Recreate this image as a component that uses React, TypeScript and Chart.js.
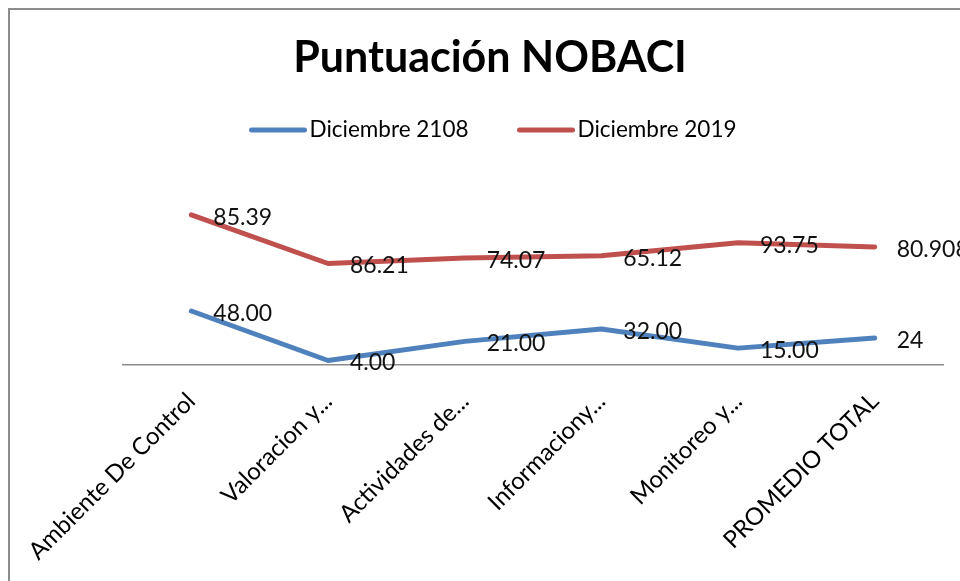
import { useEffect, useRef } from "react";
import { Chart, registerables } from "chart.js";

Chart.register(...registerables);

const categories = [
  "Ambiente De Control",
  "Valoracion y...",
  "Actividades de...",
  "Informaciony...",
  "Monitoreo y...",
  "PROMEDIO TOTAL",
];
const seriesNames = ["Diciembre 2108", "Diciembre 2019"];
const valuesDic2018 = [48, 4, 21, 32, 15, 24];
const valuesDic2019 = [85.39, 86.21, 74.07, 65.12, 93.75, 80.908];
const seriesColors = ["#4F81BD", "#C0504D"];
const yMax = 160;

const FONT = "Lato, 'Open Sans', sans-serif";

function formatValue(v: number, i: number, n: number): string {
  return i === n - 1 ? String(v) : v.toFixed(2);
}

const framePlugin = {
  id: "frame",
  beforeDraw(chart: any) {
    const ctx = chart.ctx;
    ctx.save();
    ctx.fillStyle = "#ffffff";
    ctx.fillRect(0, 0, chart.width, chart.height);
    ctx.fillStyle = "#8c8c8c";
    ctx.fillRect(8, 8, 2, chart.height - 8);
    ctx.fillRect(8, 8, chart.width - 8, 2);
    ctx.restore();
  },
};

const legendPlugin = {
  id: "excelLegend",
  afterDraw(chart: any) {
    const ctx = chart.ctx;
    const lineLen = 57;
    const gap = 3;
    const itemGap = 49;
    const centerX = 493;
    const y = 130;
    ctx.save();
    ctx.font = `22.5px ${FONT}`;
    const ds = chart.data.datasets;
    const widths = ds.map((d: any) => lineLen + gap + ctx.measureText(d.label).width);
    const total = widths.reduce((a: number, b: number) => a + b, 0) + itemGap * (ds.length - 1);
    let x = centerX - total / 2;
    ds.forEach((d: any, i: number) => {
      ctx.strokeStyle = d.borderColor;
      ctx.lineWidth = 5;
      ctx.lineCap = "round";
      ctx.beginPath();
      ctx.moveTo(x + 2, y);
      ctx.lineTo(x + lineLen - 2, y);
      ctx.stroke();
      ctx.fillStyle = "#000000";
      ctx.textAlign = "left";
      ctx.textBaseline = "middle";
      ctx.fillText(d.label, x + lineLen + gap, y);
      x += widths[i] + itemGap;
    });
    ctx.restore();
  },
};

const valueLabelPlugin = {
  id: "valueLabels",
  afterDatasetsDraw(chart: any) {
    const ctx = chart.ctx;
    ctx.save();
    ctx.font = `23px ${FONT}`;
    ctx.fillStyle = "#111111";
    ctx.textAlign = "left";
    ctx.textBaseline = "middle";
    chart.data.datasets.forEach((d: any, di: number) => {
      const meta = chart.getDatasetMeta(di);
      meta.data.forEach((pt: any, i: number) => {
        const v = d.data[i];
        ctx.fillText(formatValue(v, i, d.data.length), pt.x + 22, pt.y + 2.5);
      });
    });
    ctx.restore();
  },
};

export default function App() {
  const ref = useRef<HTMLCanvasElement | null>(null);

  useEffect(() => {
    if (!ref.current) return;
    const chart = new Chart(ref.current, {
      type: "line",
      data: {
        labels: categories,
        datasets: [
          {
            label: seriesNames[0],
            data: valuesDic2018,
            borderColor: seriesColors[0],
            backgroundColor: seriesColors[0],
            borderWidth: 5,
            pointRadius: 0,
            tension: 0,
            fill: false,
            borderCapStyle: "round",
            borderJoinStyle: "round",
          },
          {
            label: seriesNames[1],
            data: valuesDic2019,
            borderColor: seriesColors[1],
            backgroundColor: seriesColors[1],
            borderWidth: 5,
            pointRadius: 0,
            tension: 0,
            fill: false,
            borderCapStyle: "round",
            borderJoinStyle: "round",
          },
        ],
      },
      options: {
        responsive: false,
        animation: false,
        layout: { padding: { left: 37, right: 17, top: 0, bottom: 0 } },
        plugins: {
          legend: { display: false },
          tooltip: { enabled: false },
          title: {
            display: true,
            text: "Puntuación NOBACI",
            color: "#000000",
            font: { family: FONT, size: 43, weight: "bold", lineHeight: 1.2 },
            padding: { top: 32, bottom: 101.4 },
          },
        },
        scales: {
          x: {
            type: "category",
            offset: true,
            grid: { display: false, drawTicks: false },
            border: { display: true, color: "#8c8c8c", width: 1.5 },
            ticks: {
              color: "#000000",
              font: { family: FONT, size: 24 },
              minRotation: 45,
              maxRotation: 45,
              autoSkip: false,
              padding: 22,
            },
            afterFit(scale: any) {
              scale.height = 581 - 365;
            },
          },
          y: {
            stacked: true,
            min: 0,
            max: yMax,
            ticks: { display: false },
            grid: { display: false },
            border: { display: false },
            afterFit(scale: any) {
              scale.width = 86;
            },
          },
        },
      },
      plugins: [framePlugin, legendPlugin, valueLabelPlugin],
    });
    return () => chart.destroy();
  }, []);

  return (
    <div
      style={{
        position: "fixed",
        left: 0,
        top: 0,
        width: 960,
        height: 581,
        overflow: "hidden",
        background: "#ffffff",
      }}
    >
      <canvas ref={ref} width={960} height={581} style={{ display: "block" }} />
    </div>
  );
}
